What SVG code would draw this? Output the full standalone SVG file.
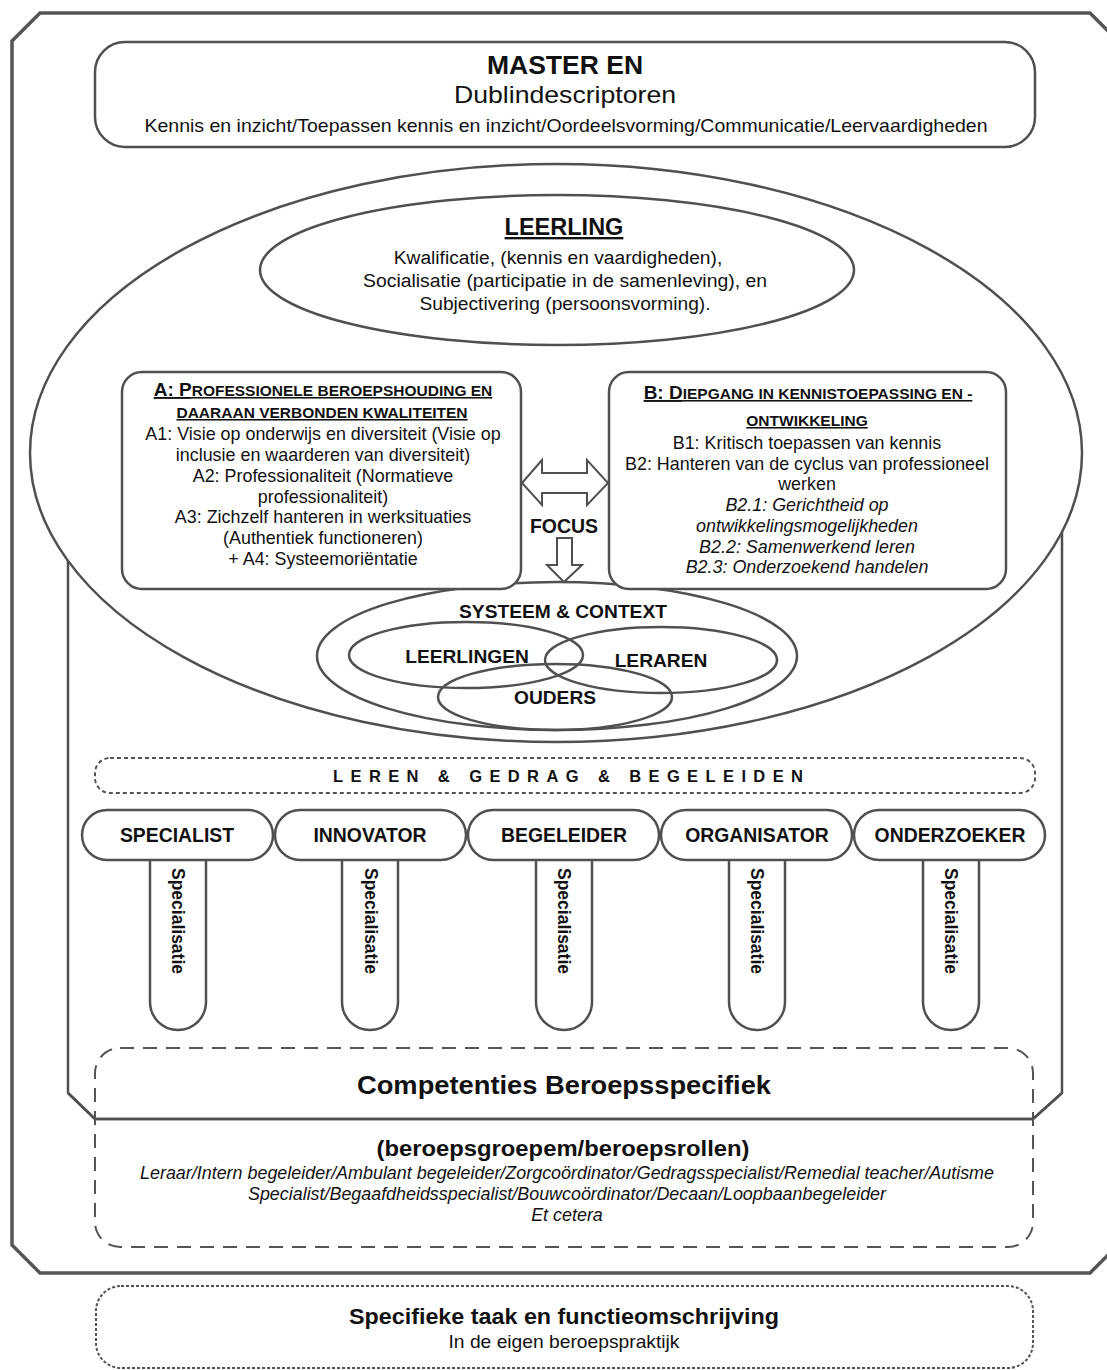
<svg xmlns="http://www.w3.org/2000/svg" width="1107" height="1370" viewBox="0 0 1107 1370">
<style>
text{font-family:"Liberation Sans",Arial,sans-serif;fill:#111;text-anchor:middle}
.b{font-weight:bold}
.it{font-style:italic}
.ln{fill:#fff;stroke:#505050;stroke-width:2.5}
.nf{fill:none;stroke:#505050;stroke-width:2.5}
.ttl{font-weight:bold;text-decoration:underline;font-size:19px}
.s{font-size:15.5px}
.t18{font-size:17.9px}
.t19{font-size:19.2px}
.it18{font-style:italic;font-size:17.9px}
.role{font-size:19.4px;font-weight:bold}
.venn{font-size:19.2px;font-weight:bold}
.spec{font-size:17.5px;font-weight:bold}
</style>
<rect width="1107" height="1370" fill="#fff"/>
<g id="frame">
<polygon points="40,13 1090,13 1118,41 1118,1245 1090,1273 40,1273 12,1245 12,41" fill="#fff" stroke="#555" stroke-width="3.5"/>
</g>
<g id="master">
<rect x="95" y="42" width="940" height="105" rx="30" class="ln"/>
<text x="565" y="74" class="b" font-size="26.5">MASTER EN</text>
<text x="565" y="103" font-size="24" textLength="222" lengthAdjust="spacingAndGlyphs">Dublindescriptoren</text>
<text x="566" y="132" font-size="18.5" textLength="843" lengthAdjust="spacingAndGlyphs">Kennis en inzicht/Toepassen kennis en inzicht/Oordeelsvorming/Communicatie/Leervaardigheden</text>
</g>
<g id="inner-frame">
<path d="M68,470 V1093 L95,1119 H1033 L1062,1093 V470" class="nf" stroke-width="3"/>
</g>
<g id="competenties">
<rect x="95" y="1048" width="938" height="199" rx="25" fill="none" stroke="#555" stroke-width="2" stroke-dasharray="14,9"/>
<path d="M68,1093 L95,1119 H1033 L1062,1093" class="nf" stroke-width="3"/>
<text x="564" y="1094" class="b" font-size="25" textLength="414" lengthAdjust="spacingAndGlyphs">Competenties Beroepsspecifiek</text>
<text x="563" y="1156" class="b" font-size="22" textLength="373" lengthAdjust="spacingAndGlyphs">(beroepsgroepem/beroepsrollen)</text>
<text x="567" y="1179" class="it18" textLength="854" lengthAdjust="spacingAndGlyphs">Leraar/Intern begeleider/Ambulant begeleider/Zorgcoördinator/Gedragsspecialist/Remedial teacher/Autisme</text>
<text x="567" y="1200" class="it18" textLength="638" lengthAdjust="spacingAndGlyphs">Specialist/Begaafdheidsspecialist/Bouwcoördinator/Decaan/Loopbaanbegeleider</text>
<text x="567" y="1221" class="it18">Et cetera</text>
</g>
<g id="big-ellipse">
<ellipse cx="556" cy="453" rx="526" ry="289" class="ln"/>
</g>
<g id="leerling">
<ellipse cx="557" cy="270" rx="297" ry="75" class="ln"/>
<text x="564" y="235" class="b" font-size="23.5" text-decoration="underline">LEERLING</text>
<text x="558" y="264" class="t19">Kwalificatie, (kennis en vaardigheden),</text>
<text x="565" y="287" class="t19" textLength="404" lengthAdjust="spacingAndGlyphs">Socialisatie (participatie in de samenleving), en</text>
<text x="565" y="310" class="t19">Subjectivering (persoonsvorming).</text>
</g>
<g id="systeem">
<ellipse cx="557" cy="656" rx="240" ry="74" class="nf"/>
<text x="563" y="618" class="venn">SYSTEEM &amp; CONTEXT</text>
</g>
<g id="leerlingen">
<ellipse cx="466" cy="655" rx="117" ry="33" class="nf"/>
<text x="467" y="663" class="venn">LEERLINGEN</text>
</g>
<g id="leraren">
<ellipse cx="661" cy="660" rx="116" ry="33" class="nf"/>
<text x="661" y="667" class="venn">LERAREN</text>
</g>
<g id="ouders">
<ellipse cx="555" cy="697" rx="117" ry="33" class="nf"/>
<text x="555" y="704" class="venn">OUDERS</text>
</g>
<g id="box-a">
<rect x="122" y="372" width="399" height="217" rx="20" class="ln" stroke-width="3"/>
<text x="323" y="396" class="ttl">A: P<tspan class="s">ROFESSIONELE BEROEPSHOUDING EN</tspan></text>
<text x="322" y="418" class="ttl s">DAARAAN VERBONDEN KWALITEITEN</text>
<text x="323" y="440" class="t18">A1: Visie op onderwijs en diversiteit (Visie op</text>
<text x="323" y="461" class="t18">inclusie en waarderen van diversiteit)</text>
<text x="323" y="482" class="t18">A2: Professionaliteit (Normatieve</text>
<text x="323" y="503" class="t18">professionaliteit)</text>
<text x="323" y="523" class="t18">A3: Zichzelf hanteren in werksituaties</text>
<text x="323" y="544" class="t18">(Authentiek functioneren)</text>
<text x="323" y="565" class="t18">+ A4: Systeemoriëntatie</text>
</g>
<g id="box-b">
<rect x="609" y="372" width="397" height="217" rx="20" class="ln" stroke-width="3"/>
<text x="808" y="399" class="ttl">B: D<tspan class="s">IEPGANG IN KENNISTOEPASSING EN -</tspan></text>
<text x="807" y="426" class="ttl s">ONTWIKKELING</text>
<text x="807" y="449" class="t18">B1: Kritisch toepassen van kennis</text>
<text x="807" y="470" class="t18">B2: Hanteren van de cyclus van professioneel</text>
<text x="807" y="490" class="t18">werken</text>
<text x="807" y="511" class="it18">B2.1: Gerichtheid op</text>
<text x="807" y="532" class="it18">ontwikkelingsmogelijkheden</text>
<text x="807" y="553" class="it18">B2.2: Samenwerkend leren</text>
<text x="807" y="573" class="it18">B2.3: Onderzoekend handelen</text>
</g>
<g id="connectors">
<polygon points="522,483 542,460 542,473 587,473 587,460 608,483 587,505 587,493 542,493 542,505" fill="#fff" stroke="#505050" stroke-width="2"/>
<polygon points="557,538 572,538 572,565 582,565 564,582 547,565 557,565" fill="#fff" stroke="#505050" stroke-width="2"/>
</g>
<g id="focus">
<text x="564" y="533" class="b" font-size="19.5">FOCUS</text>
</g>
<g id="leren-gedrag">
<rect x="95" y="758" width="940" height="35" rx="15" fill="none" stroke="#555" stroke-width="2" stroke-dasharray="4,3"/>
<text x="568" y="782" class="b" font-size="16.5" textLength="470" lengthAdjust="spacing">LEREN &amp; GEDRAG &amp; BEGELEIDEN</text>
</g>
<g id="specialist">
<path d="M150,860 V1002 A28,28 0 0 0 206,1002 V860" class="ln" stroke-width="2"/>
<rect x="82" y="810" width="191" height="50" rx="25" class="ln" stroke-width="2"/>
<text x="177" y="842" class="role">SPECIALIST</text>
<text transform="translate(172,921) rotate(90)" class="spec">Specialisatie</text>
</g>
<g id="innovator">
<path d="M342,860 V1002 A28,28 0 0 0 398,1002 V860" class="ln" stroke-width="2"/>
<rect x="275" y="810" width="191" height="50" rx="25" class="ln" stroke-width="2"/>
<text x="370" y="842" class="role">INNOVATOR</text>
<text transform="translate(365,921) rotate(90)" class="spec">Specialisatie</text>
</g>
<g id="begeleider">
<path d="M536,860 V1002 A28,28 0 0 0 592,1002 V860" class="ln" stroke-width="2"/>
<rect x="468" y="810" width="191" height="50" rx="25" class="ln" stroke-width="2"/>
<text x="564" y="842" class="role">BEGELEIDER</text>
<text transform="translate(558,921) rotate(90)" class="spec">Specialisatie</text>
</g>
<g id="organisator">
<path d="M729,860 V1002 A28,28 0 0 0 785,1002 V860" class="ln" stroke-width="2"/>
<rect x="661" y="810" width="191" height="50" rx="25" class="ln" stroke-width="2"/>
<text x="757" y="842" class="role">ORGANISATOR</text>
<text transform="translate(751,921) rotate(90)" class="spec">Specialisatie</text>
</g>
<g id="onderzoeker">
<path d="M923,860 V1002 A28,28 0 0 0 979,1002 V860" class="ln" stroke-width="2"/>
<rect x="854" y="810" width="191" height="50" rx="25" class="ln" stroke-width="2"/>
<text x="950" y="842" class="role">ONDERZOEKER</text>
<text transform="translate(945,921) rotate(90)" class="spec">Specialisatie</text>
</g>
<g id="specifieke-taak">
<rect x="96" y="1286" width="937" height="82" rx="25" fill="none" stroke="#555" stroke-width="2" stroke-dasharray="3,2"/>
<text x="564" y="1324" class="b" font-size="22" textLength="430" lengthAdjust="spacingAndGlyphs">Specifieke taak en functieomschrijving</text>
<text x="564" y="1348" font-size="18.5" textLength="231" lengthAdjust="spacingAndGlyphs">In de eigen beroepspraktijk</text>
</g>
</svg>
